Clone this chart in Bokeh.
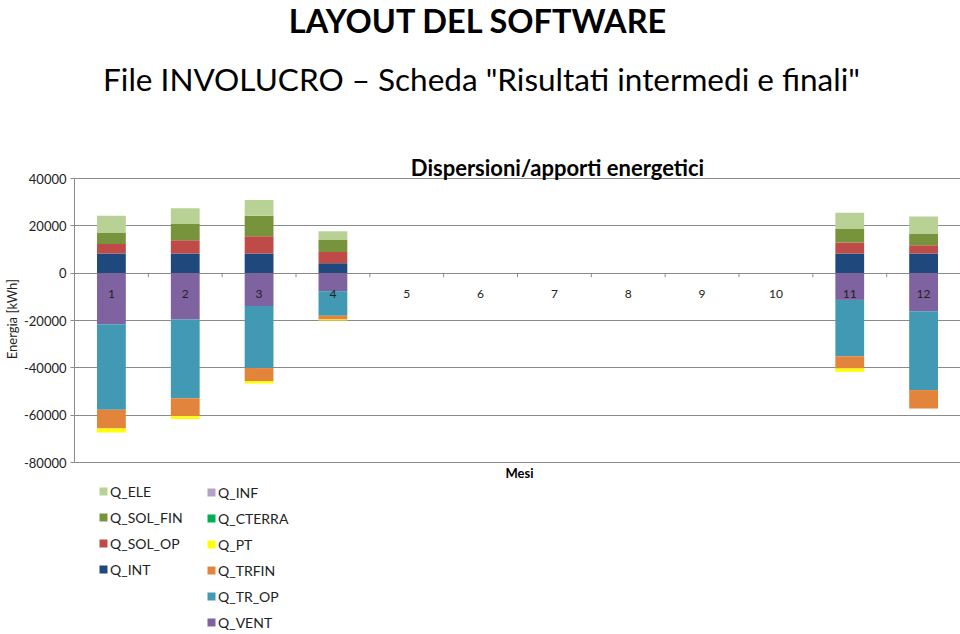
import math
from bokeh.plotting import figure
from bokeh.models import Label, Legend, LegendItem, FixedTicker, Range1d, NumeralTickFormatter, ColumnDataSource
from bokeh.embed import file_html
from bokeh.resources import INLINE

months = [1, 2, 3, 4, 5, 6, 7, 8, 9, 10, 11, 12]
month_labels = [str(m) for m in months]
Q_ELE = [7300, 6600, 6600, 3500, 0, 0, 0, 0, 0, 0, 6800, 7300]
Q_SOL_FIN = [4650, 6900, 8700, 5300, 0, 0, 0, 0, 0, 0, 5700, 4800]
Q_SOL_OP = [4050, 5600, 7300, 4700, 0, 0, 0, 0, 0, 0, 4700, 3500]
Q_INT = [8300, 8300, 8300, 4200, 0, 0, 0, 0, 0, 0, 8300, 8300]
Q_INF = [0, 0, 0, 0, 0, 0, 0, 0, 0, 0, 0, 0]
Q_CTERRA = [0, 0, 0, 0, 0, 0, 0, 0, 0, 0, 0, 0]
Q_PT = [-1700, -1100, -1000, -400, 0, 0, 0, 0, 0, 0, -1400, 0]
Q_TRFIN = [-7900, -7600, -5500, -1600, 0, 0, 0, 0, 0, 0, -5200, -7800]
Q_TR_OP = [-36100, -33300, -26200, -10400, 0, 0, 0, 0, 0, 0, -23800, -33300]
Q_VENT = [-21600, -19600, -13900, -7600, 0, 0, 0, 0, 0, 0, -11300, -16100]
y_ticks = [-80000, -60000, -40000, -20000, 0, 20000, 40000]
Y_MIN, Y_MAX = -80000, 40000

colors = {
    "Q_ELE": "#B8D296",
    "Q_SOL_FIN": "#77933C",
    "Q_SOL_OP": "#BE4B48",
    "Q_INT": "#1F497D",
    "Q_INF": "#B3A2C7",
    "Q_CTERRA": "#00B050",
    "Q_PT": "#FFFF00",
    "Q_TRFIN": "#E3843C",
    "Q_TR_OP": "#4299B3",
    "Q_VENT": "#7F62A0",
}

data = dict(month=months, label=month_labels, zero=[0] * len(months),
            Q_ELE=Q_ELE, Q_SOL_FIN=Q_SOL_FIN, Q_SOL_OP=Q_SOL_OP,
            Q_INT=Q_INT, Q_INF=Q_INF, Q_CTERRA=Q_CTERRA, Q_PT=Q_PT,
            Q_TRFIN=Q_TRFIN, Q_TR_OP=Q_TR_OP, Q_VENT=Q_VENT)
src = ColumnDataSource(data)

FONT = "Lato"
W, H = 960, 634
LEFT, RIGHT = 71, 0
PLOT_TOP_PX, PLOT_BOT_PX = 178, 462      # pixel rows of the 40000 / -80000 gridlines
upp = (Y_MAX - Y_MIN) / (PLOT_BOT_PX - PLOT_TOP_PX)
y_range = Range1d(Y_MIN - (H - PLOT_BOT_PX) * upp, Y_MAX + PLOT_TOP_PX * upp)

p = figure(width=W, height=H, x_range=Range1d(0.5, 12.5), y_range=y_range,
           output_backend="svg", toolbar_location=None, title=None,
           min_border_left=LEFT, min_border_right=RIGHT, min_border_top=0, min_border_bottom=0)
p.outline_line_color = None

pos = ["Q_INT", "Q_SOL_OP", "Q_SOL_FIN", "Q_ELE"]
neg = ["Q_VENT", "Q_INF", "Q_CTERRA", "Q_TR_OP", "Q_TRFIN", "Q_PT"]
rp = p.vbar_stack(pos, x="month", width=0.39, source=src,
                  color=[colors[k] for k in pos], line_color=None)
rn = p.vbar_stack(neg, x="month", width=0.39, source=src,
                  color=[colors[k] for k in neg], line_color=None)
rend = dict(zip(pos, rp))
rend.update(dict(zip(neg, rn)))

# category axis drawn at zero: tick marks between months and month labels
mids = [m + 0.5 for m in months[:-1]]
p.ray(x=mids, y=[0] * len(mids), length=4, length_units="screen", angle=-math.pi / 2,
      line_color="#8a8a8a", line_width=1)
p.text(x="month", y="zero", text="label", source=src, y_offset=21,
       text_align="center", text_baseline="middle",
       text_font={"value": FONT}, text_font_size="12px", text_color="#222222")

# y axis
p.xaxis.visible = False
p.yaxis.ticker = FixedTicker(ticks=y_ticks)
p.yaxis.bounds = (Y_MIN, Y_MAX)
p.yaxis.formatter = NumeralTickFormatter(format="0")
p.yaxis.axis_line_color = "#8a8a8a"
p.yaxis.major_tick_line_color = "#8a8a8a"
p.yaxis.major_tick_out = 4
p.yaxis.major_tick_in = 0
p.yaxis.minor_tick_line_color = None
p.yaxis.major_label_text_font = FONT
p.yaxis.major_label_text_font_size = "13px"
p.yaxis.major_label_text_color = "#222222"
p.yaxis.major_label_standoff = 4
p.yaxis.axis_label = "Energia  [kWh]"
p.yaxis.axis_label_text_font = FONT
p.yaxis.axis_label_text_font_size = "13px"
p.yaxis.axis_label_text_font_style = "normal"
p.yaxis.axis_label_text_color = "#222222"
p.yaxis.axis_label_standoff = 1

p.xgrid.visible = False
p.ygrid.ticker = FixedTicker(ticks=y_ticks)
p.ygrid.grid_line_color = "#8a8a8a"
p.ygrid.grid_line_width = 1


def make_legend(names, x, y):
    leg = Legend(items=[LegendItem(label=n, renderers=[rend[n]]) for n in names],
                 location=(x, y), orientation="vertical",
                 glyph_width=10, glyph_height=10, label_height=18, spacing=8,
                 label_standoff=2, padding=0, margin=0,
                 border_line_color=None, background_fill_alpha=0,
                 label_text_font=FONT, label_text_font_size="14px",
                 label_text_color="#222222", label_text_baseline="middle")
    p.add_layout(leg)


make_legend(["Q_ELE", "Q_SOL_FIN", "Q_SOL_OP", "Q_INT"], 95 - LEFT, H - 578)
make_legend(["Q_INF", "Q_CTERRA", "Q_PT", "Q_TRFIN", "Q_TR_OP", "Q_VENT"], 203 - LEFT, H - 631)


def lab(text, cx, cy, size, bold=False):
    p.add_layout(Label(x=cx - LEFT, y=H - cy, x_units="screen", y_units="screen",
                       text=text, text_align="center", text_baseline="middle",
                       text_font=FONT, text_font_size=size,
                       text_font_style="bold" if bold else "normal",
                       text_color="#000000"))


lab("LAYOUT DEL SOFTWARE", 475, 19.5, "32.5px", True)
lab("File INVOLUCRO \u2013 Scheda \"Risultati intermedi e finali\"", 478, 78, "31.5px")
lab("Dispersioni/apporti energetici", 554, 167, "22px", True)
lab("Mesi", 516, 472, "13px", True)

open("out.html", "w").write(file_html(p, INLINE))
